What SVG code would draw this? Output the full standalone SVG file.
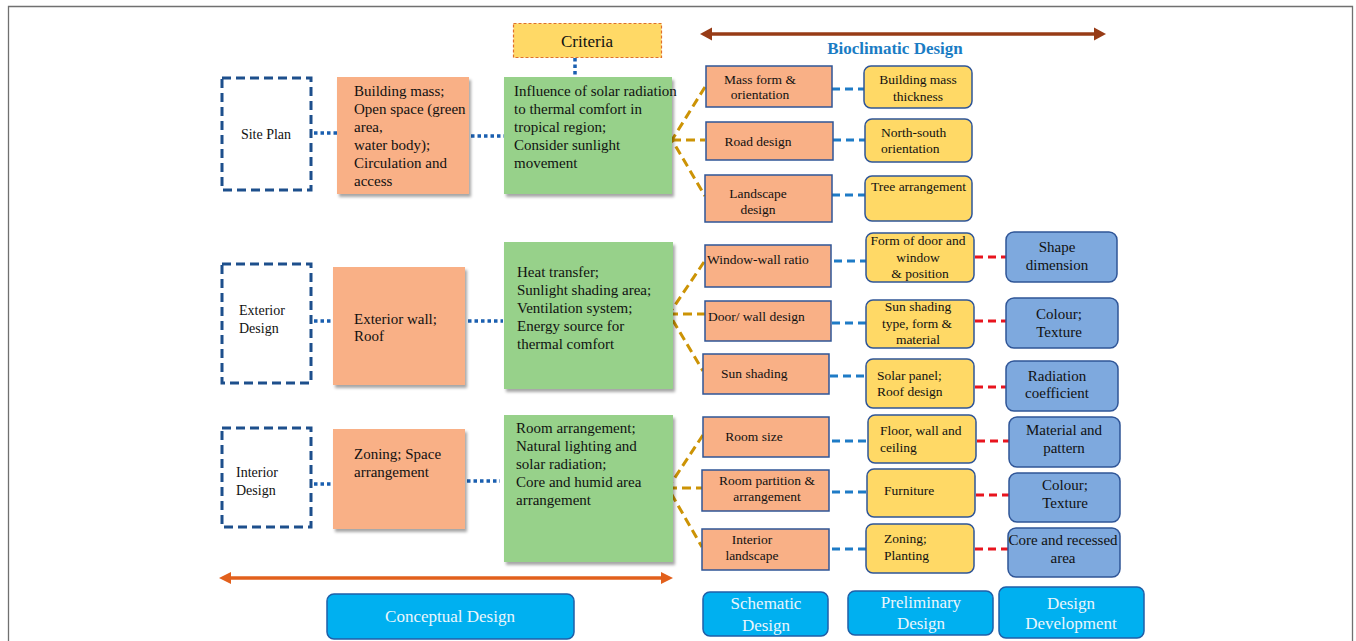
<svg xmlns="http://www.w3.org/2000/svg" width="1356" height="641" viewBox="0 0 1356 641">
<defs>
<filter id="sh" x="-10%" y="-10%" width="130%" height="130%"><feDropShadow dx="2" dy="3" stdDeviation="1.8" flood-color="#000" flood-opacity="0.35"/></filter>
<style>
text{font-family:"Liberation Serif","Times New Roman",serif;fill:#111}
.t15{font-size:15px}
.t14{font-size:14px}
.t135{font-size:13.5px}
.c{text-anchor:middle}
.stage{fill:none;stroke:#1D4F8C;stroke-width:3;stroke-dasharray:9 5}
.con{fill:#F9B086;filter:url(#sh)}
.crit{fill:#97D18A;filter:url(#sh)}
.sch{fill:#F9B086;stroke:#2F5597;stroke-width:1.5}
.pre{fill:#FFD966;stroke:#2F5597;stroke-width:1.5}
.dev{fill:#7EA9DE;stroke:#2F5597;stroke-width:1.5}
.ph{fill:#00B0F0;stroke:#1F5FA8;stroke-width:1.5}
.ph-t{fill:#EAF6FC;font-size:17px}
.dot{stroke:#1A5FB0;stroke-width:3.5;stroke-dasharray:3.5 3;fill:none}
.gold{stroke:#CC9305;stroke-width:3;stroke-dasharray:9 5;fill:none}
.bd{stroke:#1E7BC6;stroke-width:3;stroke-dasharray:8 5;fill:none}
.rd{stroke:#E8141E;stroke-width:3;stroke-dasharray:8 5;fill:none}
</style>
</defs>
<rect x="0" y="0" width="1356" height="641" fill="#fff"/>
<path d="M8.5 645V6.5H1352.5V645" fill="none" stroke="#707070" stroke-width="1.3"/>

<g id="connectors">
<line class="dot" x1="575" y1="58" x2="575" y2="77"/>
<line class="dot" x1="314" y1="133" x2="337" y2="133"/>
<line class="dot" x1="471" y1="136" x2="504" y2="136"/>
<line class="dot" x1="314" y1="321" x2="331" y2="321"/>
<line class="dot" x1="468" y1="321" x2="503" y2="321"/>
<line class="dot" x1="314" y1="484" x2="331" y2="484"/>
<line class="dot" x1="467" y1="481" x2="500" y2="481"/>
<path class="gold" d="M705 87L672 140L705 196M672 140H705"/>
<path class="gold" d="M704 262L669 314L703 371M669 314H705"/>
<path class="gold" d="M703 435L668 488L702 547M668 488H703"/>
<line class="bd" x1="832" y1="89" x2="864" y2="89"/>
<line class="bd" x1="833" y1="140" x2="865" y2="140"/>
<line class="bd" x1="832" y1="195" x2="865" y2="195"/>
<line class="bd" x1="834" y1="261" x2="866" y2="261"/>
<line class="bd" x1="832" y1="323" x2="866" y2="323"/>
<line class="bd" x1="830" y1="376" x2="866" y2="376"/>
<line class="bd" x1="832" y1="441" x2="867" y2="441"/>
<line class="bd" x1="832" y1="492" x2="867" y2="492"/>
<line class="bd" x1="832" y1="549" x2="866" y2="549"/>
<line class="rd" x1="975" y1="257" x2="1006" y2="257"/>
<line class="rd" x1="975" y1="321" x2="1006" y2="321"/>
<line class="rd" x1="975" y1="387" x2="1006" y2="387"/>
<line class="rd" x1="977" y1="441" x2="1009" y2="441"/>
<line class="rd" x1="976" y1="495" x2="1009" y2="495"/>
<line class="rd" x1="975" y1="549" x2="1008" y2="549"/>
</g>

<g id="bioclimatic-arrow">
<line x1="710" y1="34" x2="1096" y2="34" stroke="#973B16" stroke-width="3.5"/>
<polygon points="700,34 712,27.5 712,40.5" fill="#973B16"/>
<polygon points="1106,34 1094,27.5 1094,40.5" fill="#973B16"/>
<text x="895" y="54" class="c" style="font-size:17px;font-weight:bold;fill:#1A7CC4">Bioclimatic Design</text>
</g>
<g id="conceptual-arrow">
<line x1="229" y1="578" x2="662" y2="578" stroke="#E2601C" stroke-width="3.5"/>
<polygon points="219,578 231,572 231,584" fill="#E2601C"/>
<polygon points="673,578 661,572 661,584" fill="#E2601C"/>
</g>

<g id="criteria">
<rect x="513.5" y="23.5" width="148" height="34" fill="#FFD966" stroke="#E0702A" stroke-width="1.2" stroke-dasharray="3 2"/>
<text x="587" y="47" class="c" style="font-size:17px">Criteria</text>
</g>

<g id="site-plan"><rect class="stage" x="222" y="78" width="89" height="112"/><text x="266" y="139" class="c t14">Site Plan</text></g>
<g id="site-concept"><rect class="con" x="337" y="77" width="132" height="117"/>
<text class="t15" x="354"><tspan y="96">Building mass;</tspan><tspan x="354" y="114">Open space (green</tspan><tspan x="354" y="132">area,</tspan><tspan x="354" y="150">water body);</tspan><tspan x="354" y="168">Circulation and</tspan><tspan x="354" y="186">access</tspan></text></g>
<g id="site-criteria"><rect class="crit" x="504" y="77" width="168" height="117"/>
<text class="t15" x="514"><tspan y="96">Influence of solar radiation</tspan><tspan x="514" y="114">to thermal comfort in</tspan><tspan x="514" y="132">tropical region;</tspan><tspan x="514" y="150">Consider sunlight</tspan><tspan x="514" y="168">movement</tspan></text></g>

<g id="exterior-design"><rect class="stage" x="222" y="264" width="89" height="119"/><text class="t14" x="239"><tspan y="315">Exterior</tspan><tspan x="239" y="333">Design</tspan></text></g>
<g id="exterior-concept"><rect class="con" x="333" y="267" width="132" height="118"/>
<text class="t15" x="354"><tspan y="324">Exterior wall;</tspan><tspan x="354" y="341">Roof</tspan></text></g>
<g id="exterior-criteria"><rect class="crit" x="504" y="242" width="169" height="147"/>
<text class="t15" x="517"><tspan y="277">Heat transfer;</tspan><tspan x="517" y="295">Sunlight shading area;</tspan><tspan x="517" y="313">Ventilation system;</tspan><tspan x="517" y="331">Energy source for</tspan><tspan x="517" y="349">thermal comfort</tspan></text></g>

<g id="interior-design"><rect class="stage" x="222" y="428" width="89" height="99"/><text class="t14" x="236"><tspan y="477">Interior</tspan><tspan x="236" y="495">Design</tspan></text></g>
<g id="interior-concept"><rect class="con" x="333" y="429" width="132" height="100"/>
<text class="t15" x="354"><tspan y="459">Zoning; Space</tspan><tspan x="354" y="477">arrangement</tspan></text></g>
<g id="interior-criteria"><rect class="crit" x="504" y="415" width="169" height="147"/>
<text class="t15" x="516"><tspan y="433">Room arrangement;</tspan><tspan x="516" y="451">Natural lighting and</tspan><tspan x="516" y="469">solar radiation;</tspan><tspan x="516" y="487">Core and humid area</tspan><tspan x="516" y="505">arrangement</tspan></text></g>

<g id="s-mass"><rect class="sch" x="706" y="66" width="126" height="41"/><text class="t135 c" x="760"><tspan y="84">Mass form &amp;</tspan><tspan x="760" y="99">orientation</tspan></text></g>
<g id="s-road"><rect class="sch" x="706" y="122" width="127" height="38"/><text class="t135 c" x="758" y="146">Road design</text></g>
<g id="s-landscape"><rect class="sch" x="705" y="175" width="127" height="47"/><text class="t135 c" x="758"><tspan y="198">Landscape</tspan><tspan x="758" y="214">design</tspan></text></g>
<g id="s-window"><rect class="sch" x="705" y="245" width="126" height="42"/><text class="t135" x="707" y="264">Window-wall ratio</text></g>
<g id="s-door"><rect class="sch" x="705" y="301" width="126" height="40"/><text class="t135" x="708" y="321">Door/ wall design</text></g>
<g id="s-sun"><rect class="sch" x="703" y="354" width="126" height="40"/><text class="t135" x="721" y="378">Sun shading</text></g>
<g id="s-room"><rect class="sch" x="703" y="417" width="126" height="40"/><text class="t135 c" x="754" y="441">Room size</text></g>
<g id="s-partition"><rect class="sch" x="702" y="470" width="127" height="41"/><text class="t135 c" x="767"><tspan y="485">Room partition &amp;</tspan><tspan x="767" y="501">arrangement</tspan></text></g>
<g id="s-ilandscape"><rect class="sch" x="702" y="529" width="127" height="41"/><text class="t135 c" x="752"><tspan y="544">Interior</tspan><tspan x="752" y="560">landscape</tspan></text></g>

<g id="p-mass"><rect class="pre" x="864" y="66" width="108" height="42" rx="7"/><text class="t135 c" x="918"><tspan y="84">Building mass</tspan><tspan x="918" y="101">thickness</tspan></text></g>
<g id="p-ns"><rect class="pre" x="865" y="119" width="107" height="43" rx="7"/><text class="t135" x="881"><tspan y="137">North-south</tspan><tspan x="881" y="153">orientation</tspan></text></g>
<g id="p-tree"><rect class="pre" x="865" y="176" width="107" height="45" rx="7"/><text class="t135" x="871" y="191">Tree arrangement</text></g>
<g id="p-form"><rect class="pre" x="866" y="233" width="108" height="49" rx="7"/><text class="t135 c" x="918"><tspan y="245">Form of door and</tspan><tspan x="918" y="262">window</tspan><tspan x="920" y="278">&amp; position</tspan></text></g>
<g id="p-shading"><rect class="pre" x="866" y="300" width="108" height="48" rx="7"/><text class="t135 c" x="918"><tspan y="311">Sun shading</tspan><tspan x="917" y="328">type, form &amp;</tspan><tspan x="918" y="344">material</tspan></text></g>
<g id="p-solar"><rect class="pre" x="866" y="359" width="108" height="49" rx="7"/><text class="t135" x="877"><tspan y="380">Solar panel;</tspan><tspan x="877" y="396">Roof design</tspan></text></g>
<g id="p-floor"><rect class="pre" x="868" y="415" width="108" height="48" rx="7"/><text class="t135" x="880"><tspan y="435">Floor, wall and</tspan><tspan x="880" y="452">ceiling</tspan></text></g>
<g id="p-furniture"><rect class="pre" x="867" y="469" width="108" height="48" rx="7"/><text class="t135" x="884" y="495">Furniture</text></g>
<g id="p-zoning"><rect class="pre" x="866" y="524" width="108" height="49" rx="7"/><text class="t135" x="884"><tspan y="543">Zoning;</tspan><tspan x="884" y="560">Planting</tspan></text></g>

<g id="d-shape"><rect class="dev" x="1006" y="232" width="111" height="50" rx="8"/><text class="t15 c" x="1057"><tspan y="252">Shape</tspan><tspan x="1057" y="270">dimension</tspan></text></g>
<g id="d-colour1"><rect class="dev" x="1006" y="298" width="112" height="50" rx="8"/><text class="t15 c" x="1059"><tspan y="319">Colour;</tspan><tspan x="1059" y="337">Texture</tspan></text></g>
<g id="d-radiation"><rect class="dev" x="1006" y="361" width="112" height="50" rx="8"/><text class="t15 c" x="1057"><tspan y="381">Radiation</tspan><tspan x="1057" y="398">coefficient</tspan></text></g>
<g id="d-material"><rect class="dev" x="1009" y="417" width="111" height="50" rx="8"/><text class="t15 c" x="1064"><tspan y="435">Material and</tspan><tspan x="1064" y="453">pattern</tspan></text></g>
<g id="d-colour2"><rect class="dev" x="1009" y="473" width="111" height="49" rx="8"/><text class="t15 c" x="1065"><tspan y="490">Colour;</tspan><tspan x="1065" y="508">Texture</tspan></text></g>
<g id="d-core"><rect class="dev" x="1008" y="528" width="112" height="49" rx="8"/><text class="t15 c" x="1063"><tspan y="545">Core and recessed</tspan><tspan x="1063" y="563">area</tspan></text></g>

<g id="ph-conceptual"><rect class="ph" x="327" y="594" width="247" height="45" rx="7"/><text class="ph-t c" x="450" y="622">Conceptual Design</text></g>
<g id="ph-schematic"><rect class="ph" x="703" y="592" width="125" height="44" rx="7"/><text class="ph-t c" x="766"><tspan y="609">Schematic</tspan><tspan x="766" y="631">Design</tspan></text></g>
<g id="ph-preliminary"><rect class="ph" x="848" y="591" width="145" height="44" rx="7"/><text class="ph-t c" x="921"><tspan y="608">Preliminary</tspan><tspan x="921" y="629">Design</tspan></text></g>
<g id="ph-development"><rect class="ph" x="999" y="587" width="145" height="51" rx="7"/><text class="ph-t c" x="1071"><tspan y="609">Design</tspan><tspan x="1071" y="629">Development</tspan></text></g>
</svg>
